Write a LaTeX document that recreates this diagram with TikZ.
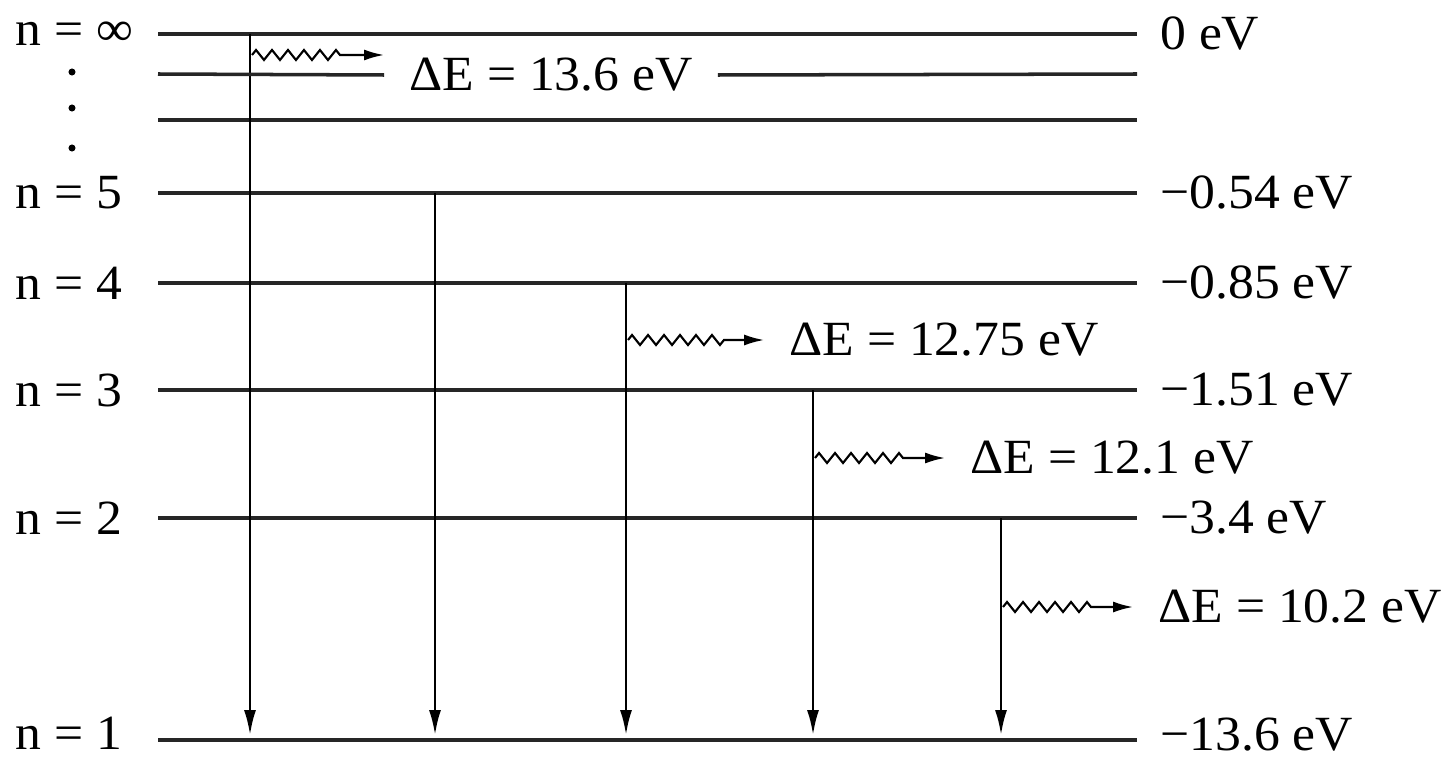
\documentclass[tikz,border=0pt]{standalone}
\usepackage{fontspec}
\setmainfont{Liberation Serif}[FakeStretch=1.05]
\usetikzlibrary{positioning,arrows.meta,calc,decorations.pathmorphing}

\begin{document}
\begin{tikzpicture}[x=0.02cm, y=-0.02cm, >=Stealth, node distance=0.46cm,
  level/.style={line width=2pt, draw=black!85},
  drop/.style={-{Latex[length=0.5cm, width=0.24cm]}, line width=1.4pt, shorten >=0.1cm},
  wave/.style={-{Latex[length=0.4cm, width=0.22cm]}, line width=1.2pt, decorate,
    decoration={zigzag, amplitude=0.1cm, segment length=0.32cm, post length=0.8cm}},
  lbl/.style={font=\fontsize{28}{32}\selectfont, inner sep=0pt},
  gap/.style={lbl, fill=white, inner xsep=0.5cm}]
  \useasboundingbox (0,0) rectangle (1449,760);

  % energy levels
  \foreach \lv/\y in {inf/34, b/120, 5/193, 4/283, 3/390, 2/518, 1/740} {
    \coordinate (L\lv) at (158,\y);
    \coordinate (R\lv) at (1137,\y);
    \draw[level] (L\lv) -- (R\lv);
  }

  % n labels
  \node[lbl, anchor=west] (ninf) at (15,34) {n = ∞};
  \node[lbl, anchor=west] (n5) at (15,193) {n = 5};
  \node[lbl, anchor=west] (n4) at (15,283) {n = 4};
  \node[lbl, anchor=west] (n3) at (15,390) {n = 3};
  \node[lbl, anchor=west] (n2) at (15,518) {n = 2};
  \node[lbl, anchor=west] (n1) at (15,733) {n = 1};
  \foreach \y in {72,108,148}
    \fill (72,\y) circle (2pt);

  % energies
  \node[lbl, right=of Rinf] (einf) {0 eV};
  \node[lbl, right=of R5] (e5) {−0.54 eV};
  \node[lbl, right=of R4] (e4) {−0.85 eV};
  \node[lbl, right=of R3] (e3) {−1.51 eV};
  \node[lbl, right=of R2] (e2) {−3.4 eV};
  \node[lbl, right=of R1, yshift=0.1cm] (e1) {−13.6 eV};

  % transitions to n = 1
  \foreach \i/\x/\y in {1/250/34, 2/435/193, 3/626/283, 4/813/390, 5/1001/518} {
    \coordinate (top\i) at (\x,\y);
    \coordinate (bot\i) at (\x,740);
    \draw[drop] (top\i) -- (bot\i);
  }

  % photon energies
  \node[gap] (dE1) at (551,75) {ΔE = 13.6 eV};
  \draw[level] (158,74) -- (dE1.west);
  \draw[level] (dE1.east) -- (1137,74);
  \coordinate (w1) at (252,55);
  \draw[wave] (w1) -- (dE1.west |- w1);

  \node[gap] (dE3) at (944,340) {ΔE = 12.75 eV};
  \coordinate (w3) at (628,340);
  \draw[wave] (w3) -- (dE3.west);

  \node[gap] (dE4) at (1112,458) {ΔE = 12.1 eV};
  \coordinate (w4) at (815,458);
  \draw[wave] (w4) -- (dE4.west);

  \node[gap, fill=none] (dE5) at (1300,607) {ΔE = 10.2 eV};
  \coordinate (w5) at (1003,607);
  \draw[wave] (w5) -- (dE5.west);
\end{tikzpicture}
\end{document}
